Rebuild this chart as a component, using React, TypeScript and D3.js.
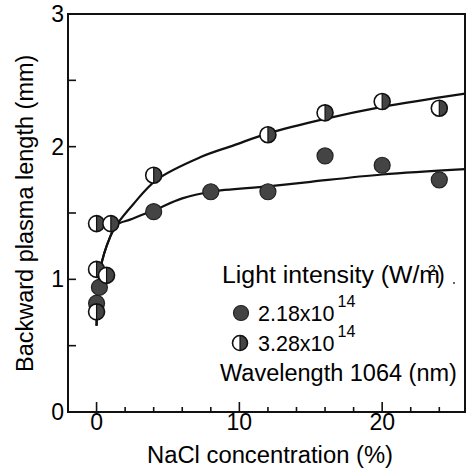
import React from 'react';
import { scaleLinear, line, curveCatmullRom, arc, range } from 'd3';

// 2.18x10^14 W/m2 (filled circles)
const lowX = [0, 0.2, 4, 8, 12, 16, 20, 24];
const lowY = [0.82, 0.94, 1.51, 1.66, 1.66, 1.93, 1.86, 1.75];

// 3.28x10^14 W/m2 (half filled circles)
const highX = [0, 0, 0.7, 0, 1, 4, 12, 16, 20, 24];
const highY = [0.755, 1.075, 1.03, 1.42, 1.42, 1.785, 2.09, 2.255, 2.34, 2.29];

// fitted curves
const fitLowX = [0, 0.25, 0.95, 1.4, 2.35, 4, 6, 8, 12, 15, 20, 25.8];
const fitLowY = [0.65, 1.07, 1.32, 1.41, 1.45, 1.52, 1.61, 1.66, 1.7, 1.735, 1.79, 1.83];
const fitHighX = [0, 0.25, 0.95, 1.4, 2.6, 4.2, 7.25, 9.6, 12, 16, 20, 25.8];
const fitHighY = [0.65, 1.07, 1.32, 1.41, 1.57, 1.75, 1.92, 2.01, 2.1, 2.21, 2.3, 2.4];

const xTicks = [0, 10, 20];
const yTicks = [0, 1, 2, 3];

const W = 470;
const H = 476;
const font = '"Liberation Sans", Arial, sans-serif';
const dark = '#444';

const HalfDot = ({ cx, cy, r }: { cx: number; cy: number; r: number }) => {
  const half = arc()({ innerRadius: 0, outerRadius: r, startAngle: 0, endAngle: Math.PI } as any) as string;
  return (
    <g transform={`translate(${cx},${cy})`}>
      <circle r={r} fill="#fff" />
      <path d={half} fill={dark} />
      <circle r={r} fill="none" stroke="#111" strokeWidth={1.6} />
      <line x1={0} x2={0} y1={-r} y2={r} stroke="#111" strokeWidth={1.2} />
    </g>
  );
};

const FullDot = ({ cx, cy, r }: { cx: number; cy: number; r: number }) => (
  <circle cx={cx} cy={cy} r={r} fill={dark} stroke="#222" strokeWidth={1.2} />
);

export default function App() {
  const x = scaleLinear().domain([-2, 25.8]).range([68, 465]);
  const y = scaleLinear().domain([0, 3]).range([412, 14]);

  const fit = line<number>()
    .x((d) => x(d))
    .curve(curveCatmullRom.alpha(0.5));

  const lowPath = fit.y((_, i) => y(fitLowY[i]))(fitLowX) as string;
  const highPath = fit.y((_, i) => y(fitHighY[i]))(fitHighX) as string;

  const xMinor = range(0, 26, 2);
  const yMinor = range(0, 3.01, 0.5);
  const r = 8;

  return (
    <svg width={W} height={H} style={{ position: 'absolute', left: 0, top: 0, background: '#fff' }} fontFamily={font}>
      {/* frame */}
      <rect x={68} y={14} width={465 - 68} height={412 - 14} fill="none" stroke="#111" strokeWidth={2} />

      {/* ticks */}
      {xMinor.map((t) => (
        <line key={'xm' + t} x1={x(t)} x2={x(t)} y1={412} y2={xTicks.includes(t) ? 402 : 407} stroke="#111" strokeWidth={1.6} />
      ))}
      {yMinor.map((t) => (
        <line key={'ym' + t} x1={68} x2={76} y1={y(t)} y2={y(t)} stroke="#111" strokeWidth={1.6} />
      ))}

      {xTicks.map((t) => (
        <text key={'xl' + t} x={x(t)} y={430} textAnchor="middle" fontSize={23}>{t}</text>
      ))}
      {yTicks.map((t) => (
        <text key={'yl' + t} x={64} y={y(t) + 8} textAnchor="end" fontSize={23}>{t}</text>
      ))}

      <text x={147} y={463} fontSize={23.5} textLength={246} lengthAdjust="spacingAndGlyphs">NaCl concentration (%)</text>
      <text transform="translate(33,372) rotate(-90)" fontSize={23.5}>
        Backward plasma length (mm)
      </text>

      {/* fit curves */}
      <path d={lowPath} fill="none" stroke="#111" strokeWidth={2.2} />
      <path d={highPath} fill="none" stroke="#111" strokeWidth={2.2} />

      {/* data */}
      {lowX.map((v, i) => (
        <FullDot key={'l' + i} cx={x(v)} cy={y(lowY[i])} r={r} />
      ))}
      {highX.map((v, i) => (
        <HalfDot key={'h' + i} cx={x(v)} cy={y(highY[i])} r={r} />
      ))}

      {/* legend */}
      <text x={222} y={283} fontSize={23.5} textLength={218} lengthAdjust="spacingAndGlyphs">Light intensity (W/m</text>
      <text x={428} y={275} fontSize={14}>2</text>
      <text x={437} y={283} fontSize={23.5}>)</text>
      <circle cx={454} cy={283} r={1} fill="#333" />
      <FullDot cx={241} cy={313} r={7.5} />
      <text x={258} y={321} fontSize={21.5}>2.18x10<tspan dx={3} dy={-14} fontSize={16}>14</tspan></text>
      <HalfDot cx={240} cy={343} r={7.5} />
      <text x={258} y={351} fontSize={21.5}>3.28x10<tspan dx={3} dy={-14} fontSize={16}>14</tspan></text>
      <text x={220} y={381} fontSize={23.5}>Wavelength 1064 (nm)</text>
    </svg>
  );
}
